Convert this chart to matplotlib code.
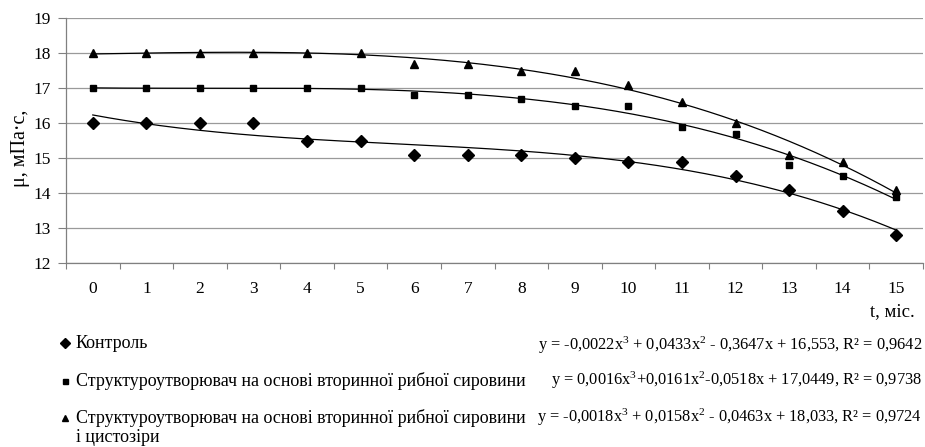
import numpy as np
import matplotlib
matplotlib.use("Agg")
import matplotlib.pyplot as plt
from matplotlib.lines import Line2D

plt.rcParams['font.family'] = ['Liberation Serif', 'DejaVu Serif']
plt.rcParams['mathtext.fontset'] = 'custom'
plt.rcParams['mathtext.rm'] = 'Liberation Serif'
plt.rcParams['mathtext.it'] = 'Liberation Serif'

months = list(range(16))
control = [16.0, 16.0, 16.0, 16.0, 15.5, 15.5, 15.1, 15.1, 15.1, 15.0, 14.9, 14.9, 14.5, 14.1, 13.5, 12.8]
struct_fish = [17.0, 17.0, 17.0, 17.0, 17.0, 17.0, 16.8, 16.8, 16.7, 16.5, 16.5, 15.9, 15.7, 14.8, 14.5, 13.9]
struct_fish_cyst = [18.0, 18.0, 18.0, 18.0, 18.0, 18.0, 17.7, 17.7, 17.5, 17.5, 17.1, 16.6, 16.0, 15.1, 14.9, 14.1]

labels = ["Контроль",
          "Структуроутворювач на основі вторинної рибної сировини",
          "Структуроутворювач на основі вторинної рибної сировини"]
label_extra = "і цистозіри"
equations = ["y = -0,0022x$^3$ + 0,0433x$^2$ - 0,3647x + 16,553, R² = 0,9642",
             "y = 0,0016x$^3$+0,0161x$^2$-0,0518x + 17,0449, R² = 0,9738",
             "y = -0,0018x$^3$ + 0,0158x$^2$ - 0,0463x + 18,033, R² = 0,9724"]
markers = ["D", "s", "^"]
msizes = [6.5, 4.5, 5.5]
yticks = list(range(12, 20))

W, H = 925, 447
fig = plt.figure(figsize=(W / 100, H / 100), dpi=100)
ax = fig.add_axes([66 / W, 1 - 263 / H, (923 - 66) / W, (263 - 18) / H])

x = np.array(months, dtype=float)
xf = np.linspace(0, 15, 300)
for ys, m, ms in zip([control, struct_fish, struct_fish_cyst], markers, msizes):
    ax.plot(months, ys, linestyle='none', marker=m, color='black', markersize=ms, zorder=3)
    c = np.polyfit(x, np.array(ys), 3)
    ax.plot(xf, np.polyval(c, xf), color='black', lw=0.9, zorder=2)

ax.set_xlim(-0.5, 15.5)
ax.set_ylim(12, 19)
ax.set_yticks(yticks)
ax.set_xticks(months)
ax.set_xticks(np.arange(-0.5, 16, 1), minor=True)
ax.tick_params(axis='x', which='major', length=0, pad=13, labelsize=12.5)
ax.tick_params(axis='x', which='minor', length=4, color='#808080', width=0.8)
ax.tick_params(axis='y', length=6, color='#808080', width=0.8, pad=5, labelsize=12.5)
ax.grid(axis='y', color='#9a9a9a', lw=0.9)
ax.set_axisbelow(True)
for s in ['top', 'right']:
    ax.spines[s].set_visible(False)
for s in ['left', 'bottom']:
    ax.spines[s].set_color('#808080')
    ax.spines[s].set_linewidth(0.9)

fig.text(20 / W, 1 - 148 / H, "μ, мПа·с,", rotation=90, ha='center', va='center', fontsize=14.5)
fig.text(915 / W, 1 - 312 / H, "t, міс.", ha='right', va='center', fontsize=13.5)

ys_leg = [343, 381, 418]
ys_eq = [345, 380, 417]
for lab, eq, m, ms, yl, ye in zip(labels, equations, markers, msizes, ys_leg, ys_eq):
    fig.add_artist(Line2D([65 / W], [1 - yl / H], marker=m, color='black',
                          markersize=ms * 0.8, transform=fig.transFigure))
    fig.text(76 / W, 1 - yl / H, lab, ha='left', va='center', fontsize=13)
    fig.text(922 / W, 1 - ye / H, eq, ha='right', va='center', fontsize=11.8)
fig.text(76 / W, 1 - 437 / H, label_extra, ha='left', va='center', fontsize=13)

fig.savefig("out.png", dpi=100)
